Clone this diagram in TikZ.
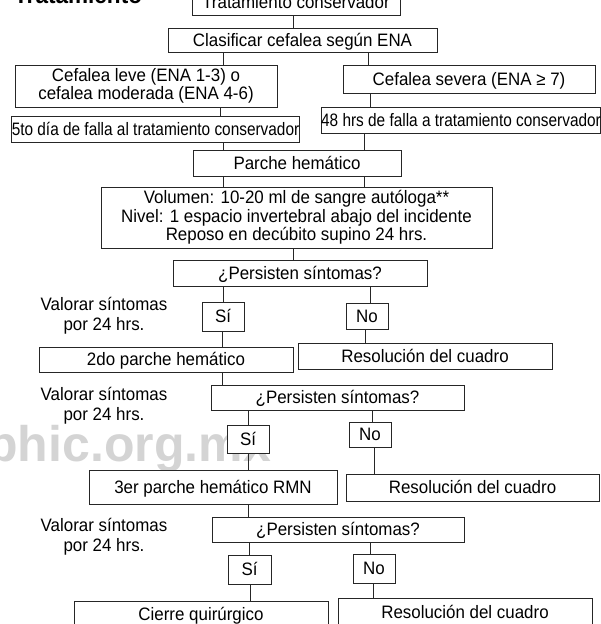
\documentclass[tikz,border=0pt]{standalone}
\usepackage{fontspec}
\setmainfont{Liberation Sans}[FakeStretch=0.94]
\newfontfamily\marcafont{Liberation Sans}
\newfontfamily\angosta{Liberation Sans}[FakeStretch=0.855]

\tikzset{
    caja/.style={draw=black!85, fill=white, line width=1pt, inner sep=0pt,
        align=center, font=\fontsize{18}{18.5}\selectfont,
        text height=12.5pt, text depth=0pt},
    cajados/.style={draw=black!85, fill=white, line width=1pt, inner sep=0pt,
        align=center, font=\fontsize{18}{18.5}\selectfont},
    liga/.style={draw=black!85, line width=1pt},
    nota/.style={align=center, font=\fontsize{18}{20}\selectfont},
}

\begin{document}
\begin{tikzpicture}[x=1pt,y=-1pt]
        \useasboundingbox (0,0) rectangle (600,624);

        % marca de agua
        \node[font=\marcafont\fontsize{50}{50}\bfseries, text=black!17,
            anchor=base east, inner sep=0pt] (marca) at (271,461) {phic.org.mx};

        \node[font=\fontsize{24}{24}\bfseries, anchor=base west, inner sep=0pt] (titulo) at (14,3.5) {Tratamiento};

        \node[caja, minimum width=208, minimum height=26] (conserv) at (296,2) {Tratamiento conservador};
        \node[caja, minimum width=269, minimum height=24] (clasif) at (302.5,40) {Clasificar cefalea según ENA};

        \node[cajados, minimum width=262, minimum height=42] (leve) at (146,86) {Cefalea leve (ENA 1-3) o\\cefalea moderada (ENA 4-6)};
        \node[caja, minimum width=252, minimum height=28] (severa) at (469,79) {Cefalea severa (ENA ≥ 7)};

        \node[caja, font=\angosta\fontsize{18}{18.5}\selectfont, minimum width=285, minimum height=26] (quinto) at (155.5,129) {5to día de falla al tratamiento conservador};
        \node[caja, font=\angosta\fontsize{18}{18.5}\selectfont, minimum width=276, minimum height=26] (horas) at (461,120) {48 hrs de falla a tratamiento conservador};

        \node[caja, minimum width=208, minimum height=26] (parche) at (297,163) {Parche hemático};
        \node[cajados, minimum width=391, minimum height=61] (volumen) at (296.5,217.5) {Volumen: 10-20 ml de sangre autóloga**\\Nivel: 1 espacio invertebral abajo del incidente\\Reposo en decúbito supino 24 hrs.};

        % primer control
        \node[caja, minimum width=254, minimum height=26] (persA) at (300,273) {¿Persisten síntomas?};
        \node[nota] (valA) at (104,316) {Valorar síntomas\\por 24 hrs.};
        \node[caja, minimum width=42, minimum height=29] (siA) at (223,316.5) {Sí};
        \node[caja, minimum width=42, minimum height=26] (noA) at (367,316) {No};
        \node[caja, minimum width=254, minimum height=25] (dos) at (166,359.5) {2do parche hemático};
        \node[caja, minimum width=254, minimum height=26] (resA) at (425,356) {Resolución del cuadro};

        % segundo control
        \node[caja, minimum width=253, minimum height=25] (persB) at (337.5,397.5) {¿Persisten síntomas?};
        \node[nota] (valB) at (104,406) {Valorar síntomas\\por 24 hrs.};
        \node[caja, minimum width=42, minimum height=28] (siB) at (248,439) {Sí};
        \node[caja, minimum width=42, minimum height=25] (noB) at (370,434.5) {No};
        \node[caja, minimum width=248, minimum height=34] (tres) at (213,487) {3er parche hemático RMN};
        \node[caja, minimum width=253, minimum height=27] (resB) at (472.5,487.5) {Resolución del cuadro};

        % tercer control
        \node[caja, minimum width=252, minimum height=25] (persC) at (338,529.5) {¿Persisten síntomas?};
        \node[nota] (valC) at (104,537) {Valorar síntomas\\por 24 hrs.};
        \node[caja, minimum width=43, minimum height=29] (siC) at (249.5,569.5) {Sí};
        \node[caja, minimum width=42, minimum height=29] (noC) at (374,568.5) {No};
        \node[caja, minimum width=254, minimum height=27] (cierre) at (201,614.5) {Cierre quirúrgico};
        \node[caja, minimum width=254, minimum height=28] (resC) at (465,612) {Resolución del cuadro};

        % ligas
        \draw[liga] ([xshift=-3]conserv.south) -- ([xshift=-3]conserv.south |- clasif.north);
        \draw[liga] ([xshift=-79.5]clasif.south) -- ([xshift=-79.5]clasif.south |- leve.north);
        \draw[liga] ([xshift=65.5]clasif.south) -- ([xshift=65.5]clasif.south |- severa.north);
        \draw[liga] ([xshift=74]leve.south) -- ([xshift=74]leve.south |- quinto.north);
        \draw[liga] ([xshift=-99]severa.south) -- ([xshift=-99]severa.south |- horas.north);
        \draw[liga] ([xshift=67.5]quinto.south) -- ([xshift=67.5]quinto.south |- parche.north);
        \draw[liga] ([xshift=-97]horas.south) -- ([xshift=-97]horas.south |- parche.north);
        \draw[liga] ([xshift=-74]parche.south) -- ([xshift=-74]parche.south |- volumen.north);
        \draw[liga] ([xshift=67]parche.south) -- ([xshift=67]parche.south |- volumen.north);
        \draw[liga] ([xshift=-3.5]volumen.south) -- ([xshift=-3.5]volumen.south |- persA.north);

        \draw[liga] ([xshift=-77]persA.south) -- ([xshift=-77]persA.south |- siA.north);
        \draw[liga] ([xshift=70]persA.south) -- ([xshift=70]persA.south |- noA.north);
        \draw[liga] ([xshift=-1]siA.south) -- ([xshift=-1]siA.south |- dos.north);
        \draw[liga] ([xshift=-2]noA.south) -- ([xshift=-2]noA.south |- resA.north);
        \draw[liga] ([xshift=56]dos.south) -- ([xshift=56]dos.south |- persB.north);

        \draw[liga] ([xshift=-89.5]persB.south) -- ([xshift=-89.5]persB.south |- siB.north);
        \draw[liga] ([xshift=34.5]persB.south) -- ([xshift=34.5]persB.south |- noB.north);
        \draw[liga] (siB.south) -- (siB.south |- tres.north);
        \draw[liga] ([xshift=4]noB.south) -- ([xshift=4]noB.south |- resB.north);
        \draw[liga] ([xshift=35]tres.south) -- ([xshift=35]tres.south |- persC.north);

        \draw[liga] ([xshift=-89]persC.south) -- ([xshift=-89]persC.south |- siC.north);
        \draw[liga] ([xshift=32]persC.south) -- ([xshift=32]persC.south |- noC.north);
        \draw[liga] ([xshift=0.5]siC.south) -- ([xshift=0.5]siC.south |- cierre.north);
        \draw[liga] ([xshift=-1]noC.south) -- ([xshift=-1]noC.south |- resC.north);
    \end{tikzpicture}
\end{document}
